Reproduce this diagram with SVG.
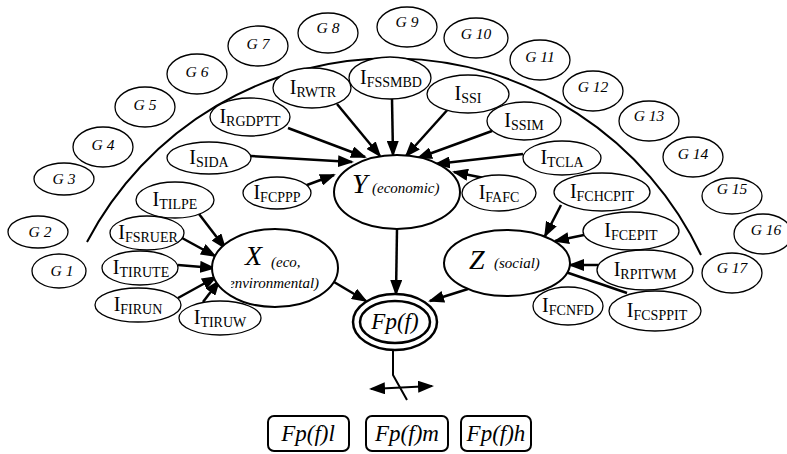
<svg xmlns="http://www.w3.org/2000/svg" width="787" height="454" viewBox="0 0 787 454">
<style>
.g ellipse{fill:#fff;stroke:#000;stroke-width:1.3}
.g text{font-style:italic;font-size:15.5px;text-anchor:middle}
.i ellipse{fill:#fff;stroke:#000;stroke-width:1.3}
.i text{font-size:20px;text-anchor:middle}
.i tspan{font-size:14px}
.m ellipse{fill:#fff;stroke:#000;stroke-width:2}
.big{font-style:italic;font-size:28px}
.sm{font-style:italic;font-size:15px}
.fp{font-style:italic;font-size:23px;text-anchor:middle}
.box rect{fill:#fff;stroke:#000;stroke-width:2}
#edges line,#edges path{stroke:#000;stroke-width:2.5;fill:none}
</style>
<defs>
<marker id="ah" viewBox="0 0 16 12" refX="14" refY="6" markerWidth="16" markerHeight="12" markerUnits="userSpaceOnUse" orient="auto-start-reverse">
<path d="M0,0 L16,6 L0,12 z" fill="#000"/>
</marker>
<clipPath id="envclip"><rect x="231" y="270" width="88" height="25"/></clipPath>
</defs>
<rect width="787" height="454" fill="#fff"/>
<g font-family="Liberation Serif, Times New Roman, Times, serif">

<path d="M87,242 A343,343 0 0 1 701,255" fill="none" stroke="#000" stroke-width="2"/>

<g id="G1" class="g"><ellipse cx="59" cy="271" rx="27" ry="17"/><text x="62" y="276">G 1</text></g>
<g id="G2" class="g"><ellipse cx="38" cy="232" rx="30" ry="16"/><text x="40" y="237">G 2</text></g>
<g id="G3" class="g"><ellipse cx="64" cy="179" rx="30" ry="16"/><text x="64" y="184">G 3</text></g>
<g id="G4" class="g"><ellipse cx="103" cy="147" rx="30" ry="20"/><text x="103" y="150">G 4</text></g>
<g id="G5" class="g"><ellipse cx="145" cy="107" rx="30" ry="20"/><text x="145" y="110">G 5</text></g>
<g id="G6" class="g"><ellipse cx="197" cy="74" rx="30" ry="20"/><text x="197" y="77">G 6</text></g>
<g id="G7" class="g"><ellipse cx="258" cy="46" rx="30" ry="20"/><text x="258" y="49">G 7</text></g>
<g id="G8" class="g"><ellipse cx="328" cy="33" rx="30" ry="20"/><text x="328" y="33">G 8</text></g>
<g id="G9" class="g"><ellipse cx="407" cy="27" rx="30" ry="20"/><text x="407" y="27">G 9</text></g>
<g id="G10" class="g"><ellipse cx="476" cy="38" rx="32" ry="20"/><text x="476" y="39">G 10</text></g>
<g id="G11" class="g"><ellipse cx="540" cy="60" rx="30" ry="20"/><text x="540" y="62">G 11</text></g>
<g id="G12" class="g"><ellipse cx="593" cy="91" rx="30" ry="20"/><text x="593" y="92">G 12</text></g>
<g id="G13" class="g"><ellipse cx="649" cy="121" rx="30" ry="20"/><text x="649" y="121">G 13</text></g>
<g id="G14" class="g"><ellipse cx="693" cy="157" rx="30" ry="20"/><text x="693" y="159">G 14</text></g>
<g id="G15" class="g"><ellipse cx="732" cy="196" rx="30" ry="18"/><text x="732" y="194">G 15</text></g>
<g id="G16" class="g"><ellipse cx="763" cy="234" rx="29" ry="20"/><text x="766" y="235">G 16</text></g>
<g id="G17" class="g"><ellipse cx="732" cy="273" rx="30" ry="20"/><text x="732" y="273">G 17</text></g>

<g id="edges">
<line x1="288" y1="128" x2="365" y2="157" marker-end="url(#ah)"/>
<line x1="251" y1="156" x2="352" y2="162" marker-end="url(#ah)"/>
<line x1="337" y1="104" x2="380" y2="156" marker-end="url(#ah)"/>
<line x1="392" y1="99" x2="393" y2="155" marker-end="url(#ah)"/>
<line x1="450" y1="107" x2="406" y2="156" marker-end="url(#ah)"/>
<line x1="492" y1="131" x2="418" y2="158" marker-end="url(#ah)"/>
<line x1="523" y1="154" x2="436" y2="164" marker-end="url(#ah)"/>
<line x1="484" y1="178" x2="454" y2="172" marker-end="url(#ah)"/>
<line x1="307" y1="185" x2="334" y2="175" marker-end="url(#ah)"/>
<line x1="199" y1="214" x2="225" y2="248" marker-end="url(#ah)"/>
<line x1="182" y1="238" x2="215" y2="256" marker-end="url(#ah)"/>
<line x1="178" y1="265" x2="214" y2="268" marker-end="url(#ah)"/>
<line x1="178" y1="298" x2="216" y2="277" marker-end="url(#ah)"/>
<line x1="203" y1="302" x2="219" y2="281" marker-end="url(#ah)"/>
<line x1="561" y1="205" x2="545" y2="236" marker-end="url(#ah)"/>
<line x1="584" y1="235" x2="555" y2="241" marker-end="url(#ah)"/>
<line x1="598" y1="265" x2="570" y2="265" marker-end="url(#ah)"/>
<line x1="627" y1="293" x2="551" y2="267" marker-end="url(#ah)"/>
<line x1="397" y1="229" x2="396" y2="294" marker-end="url(#ah)"/>
<line x1="334" y1="282" x2="366" y2="301" marker-end="url(#ah)"/>
<line x1="468" y1="289" x2="430" y2="301" marker-end="url(#ah)"/>
<path d="M393,350 L393,375 L407,400" style="stroke-width:2"/>
<line x1="371" y1="389" x2="432" y2="386" marker-start="url(#ah)" marker-end="url(#ah)" style="stroke-width:2"/>
</g>

<g id="I_RGDPTT" class="i"><ellipse cx="250" cy="117" rx="40" ry="19"/><text x="250" y="123">I<tspan dy="3">RGDPTT</tspan></text></g>
<g id="I_RWTR" class="i"><ellipse cx="312" cy="88" rx="39" ry="20"/><text x="313" y="94">I<tspan dy="3">RWTR</tspan></text></g>
<g id="I_FSSMBD" class="i"><ellipse cx="390" cy="78" rx="41" ry="21"/><text x="391" y="84">I<tspan dy="3">FSSMBD</tspan></text></g>
<g id="I_SSI" class="i"><ellipse cx="468" cy="94" rx="41" ry="19"/><text x="468" y="100">I<tspan dy="3">SSI</tspan></text></g>
<g id="I_SSIM" class="i"><ellipse cx="524" cy="121" rx="37" ry="19"/><text x="524" y="127">I<tspan dy="3">SSIM</tspan></text></g>
<g id="I_TCLA" class="i"><ellipse cx="562" cy="158" rx="39" ry="17"/><text x="562" y="164">I<tspan dy="3">TCLA</tspan></text></g>
<g id="I_FAFC" class="i"><ellipse cx="499" cy="193" rx="37" ry="18"/><text x="499" y="199">I<tspan dy="3">FAFC</tspan></text></g>
<g id="I_FCPPP" class="i"><ellipse cx="277" cy="193" rx="34" ry="16"/><text x="277" y="199">I<tspan dy="3">FCPPP</tspan></text></g>
<g id="I_SIDA" class="i"><ellipse cx="209" cy="158" rx="42" ry="16"/><text x="209" y="164">I<tspan dy="3">SIDA</tspan></text></g>

<g id="I_TILPE" class="i"><ellipse cx="175" cy="200" rx="39" ry="18"/><text x="175" y="206">I<tspan dy="3">TILPE</tspan></text></g>
<g id="I_FSRUER" class="i"><ellipse cx="147" cy="233" rx="37" ry="17"/><text x="148" y="239">I<tspan dy="3">FSRUER</tspan></text></g>
<g id="I_TIRUTE" class="i"><ellipse cx="140" cy="268" rx="38" ry="17"/><text x="141" y="274">I<tspan dy="3">TIRUTE</tspan></text></g>
<g id="I_FIRUN" class="i"><ellipse cx="138" cy="305" rx="43" ry="17"/><text x="138" y="311">I<tspan dy="3">FIRUN</tspan></text></g>
<g id="I_TIRUW" class="i"><ellipse cx="220" cy="318" rx="41" ry="17"/><text x="220" y="324">I<tspan dy="3">TIRUW</tspan></text></g>

<g id="I_FCHCPIT" class="i"><ellipse cx="602" cy="192" rx="48" ry="19"/><text x="602" y="198">I<tspan dy="3">FCHCPIT</tspan></text></g>
<g id="I_FCEPIT" class="i"><ellipse cx="631" cy="231" rx="48" ry="19"/><text x="631" y="237">I<tspan dy="3">FCEPIT</tspan></text></g>
<g id="I_RPITWM" class="i"><ellipse cx="645" cy="270" rx="48" ry="20"/><text x="645" y="276">I<tspan dy="3">RPITWM</tspan></text></g>
<g id="I_FCNFD" class="i"><ellipse cx="568" cy="306" rx="35" ry="19"/><text x="568" y="312">I<tspan dy="3">FCNFD</tspan></text></g>
<g id="I_FCSPPIT" class="i"><ellipse cx="655" cy="311" rx="46" ry="20"/><text x="657" y="317">I<tspan dy="3">FCSPPIT</tspan></text></g>

<g id="Y" class="m"><ellipse cx="397" cy="192" rx="63" ry="37"/><text class="big" x="352" y="193">Y</text><text class="sm" x="372" y="193">(economic)</text></g>
<g id="X" class="m"><ellipse cx="275" cy="268" rx="63" ry="39"/><text class="big" x="245" y="265">X</text><text class="sm" x="271" y="267">(eco,</text><text class="sm" x="228" y="288" clip-path="url(#envclip)">environmental)</text></g>
<g id="Z" class="m"><ellipse cx="507" cy="263" rx="63" ry="33"/><text class="big" x="469" y="269">Z</text><text class="sm" x="494" y="268">(social)</text></g>
<g id="Fp" class="m"><ellipse cx="395" cy="322" rx="42" ry="28" style="stroke-width:2.5"/><ellipse cx="395" cy="322" rx="35" ry="21" style="stroke-width:2.5"/><text class="fp" x="395" y="329">Fp(f)</text></g>

<g id="Fpl" class="box"><rect x="268" y="416" width="81" height="35" rx="6"/><text class="fp" x="308" y="441">Fp(f)l</text></g>
<g id="Fpm" class="box"><rect x="366" y="416" width="82" height="35" rx="6"/><text class="fp" x="407" y="441">Fp(f)m</text></g>
<g id="Fph" class="box"><rect x="461" y="416" width="70" height="35" rx="6"/><text class="fp" x="496" y="441">Fp(f)h</text></g>
</g>
</svg>
